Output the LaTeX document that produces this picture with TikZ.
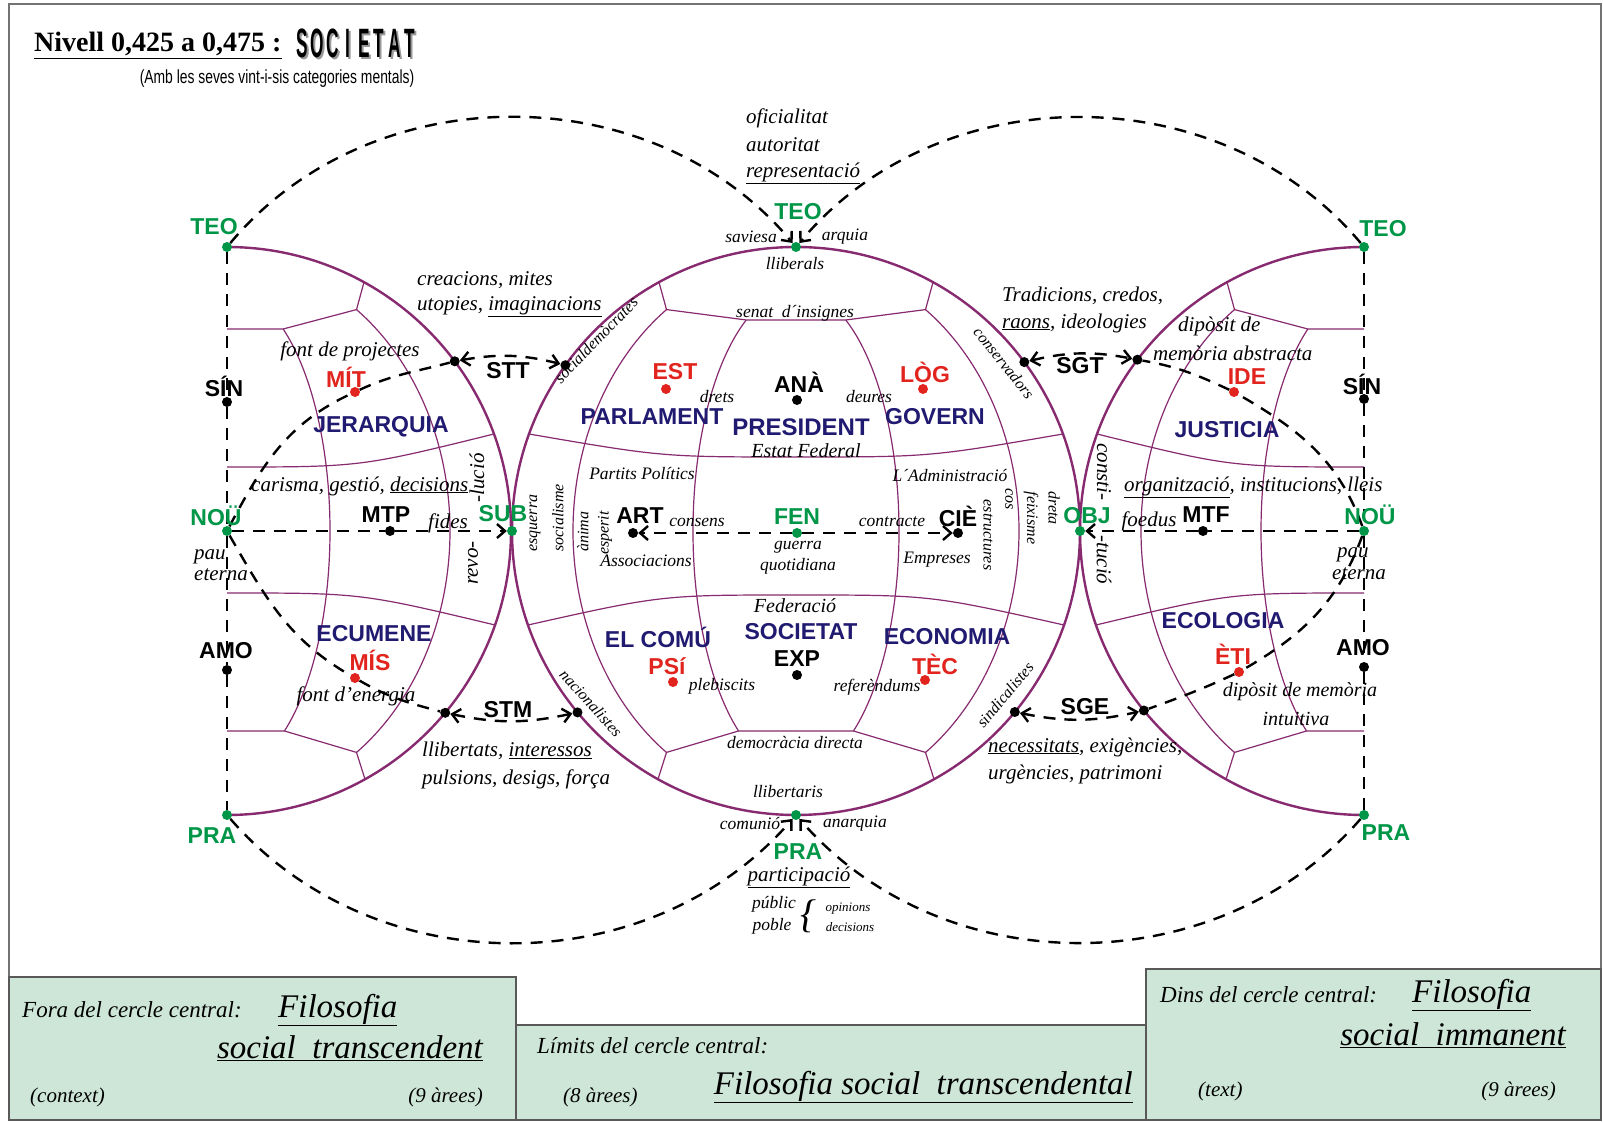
\documentclass[tikz,border=0pt]{standalone}
\usepackage{fontspec}
\setmainfont{Liberation Serif}
\newfontfamily\lsans{Liberation Sans}
\newfontfamily\lserif{Liberation Serif}
\usetikzlibrary{arrows.meta}
\definecolor{pgreen}{RGB}{0,150,72}
\definecolor{pred}{RGB}{226,36,30}
\definecolor{pnavy}{RGB}{32,26,112}
\definecolor{ppurple}{RGB}{135,42,112}
\definecolor{boxgreen}{RGB}{206,230,216}
\newcommand{\globehalf}[3]{%
  \draw[gridline] (137,248.8) -- (129.5,221.4) -- ({103*cos(asin(#1/241))},#1) -- (0,#1);
  \draw[gridline] (138,-248.2) -- (129.5,-221.4) -- (57.5,-200) -- (0,-200);
  \draw[gridline] (129.5,221.4) arc[start angle=54.5,end angle=-54.5,x radius=223,y radius=272];
  \draw[gridline] ({103*cos(asin(#1/241))},#1) arc[start angle={asin(#1/241)},end angle=-56.1,x radius=103,y radius=241];
  \draw[gridline] (267,97) .. controls (133.5,#2) .. (0,#2);
  \draw[gridline] (268,-94) .. controls (134,-#3) .. (0,-#3);
}
\newcommand{\socL}[1]{\makebox[15.5pt][c]{\scalebox{0.42}[1]{#1}}}
\newcommand{\socWord}{\socL{S}\socL{O}\socL{C}\socL{I}\socL{E}\socL{T}\socL{A}\socL{T}}
\tikzset{
  lab/.style={font=\lsans\bfseries\fontsize{23}{23}\selectfont, inner sep=0pt},
  glab/.style={lab,text=pgreen},
  rlab/.style={lab,text=pred},
  klab/.style={lab,text=black},
  region/.style={lab,text=pnavy},
  itb/.style={font=\itshape\fontsize{21}{21}\selectfont, inner sep=0pt},
  itm/.style={font=\itshape\fontsize{20}{20}\selectfont, inner sep=0pt},
  its/.style={font=\itshape\fontsize{17.5}{17.5}\selectfont, inner sep=0pt},
  itr/.style={font=\itshape\fontsize{16}{16}\selectfont, inner sep=0pt},
  itt/.style={font=\itshape\fontsize{13}{13}\selectfont, inner sep=0pt},
  gdot/.style={circle,fill=pgreen,inner sep=0pt,minimum size=10pt},
  kdot/.style={circle,fill=black,inner sep=0pt,minimum size=10pt},
  rdot/.style={circle,fill=pred,inner sep=0pt,minimum size=10pt},
  rim/.style={draw=ppurple,line width=2.4pt},
  gridline/.style={draw=ppurple,line width=1.2pt},
  dashline/.style={draw=black,line width=2.4pt,dash pattern=on 12pt off 9pt},
  boxst/.style={fill=boxgreen,draw=black!65,line width=1.6pt},
  boxit/.style={font=\itshape\fontsize{23}{23}\selectfont, inner sep=0pt},
  boxsm/.style={font=\itshape\fontsize{21}{21}\selectfont, inner sep=0pt},
  boxbig/.style={font=\itshape\fontsize{33}{33}\selectfont, inner sep=0pt},
}
\begin{document}
\begin{tikzpicture}[x=1pt,y=1pt,>={Straight Barb[length=8pt,width=14pt]}]
\useasboundingbox (0,0) rectangle (1603,1122);
\fill[white] (0,0) rectangle (1603,1122);
\draw[black!55,line width=1.5pt] (9,2) rectangle (1601,1118);

% bottom boxes
\draw[boxst] (9,2) rectangle (516,145);
\draw[boxst] (516,2) rectangle (1146,97);
\draw[boxst] (1146,2) rectangle (1601,153);

% globe grids
\begin{scope}[shift={(796,591)}]
  \globehalf{211}{74}{64}
  \begin{scope}[xscale=-1]\globehalf{211}{74}{64}\end{scope}
\end{scope}
\begin{scope}[shift={(227,591)}]\globehalf{202}{64}{62}\end{scope}
\begin{scope}[shift={(1364,591)},xscale=-1]\globehalf{202}{64}{62}\end{scope}

% rims
\draw[rim] (796,591) circle[radius=284];
\draw[rim] (227,875) arc[start angle=90,end angle=-90,radius=284];
\draw[rim] (1364,875) arc[start angle=90,end angle=270,radius=284];

% dots
\node[gdot] (teoL) at (227,875) {};
\node[kdot] (sinL) at (227,720) {};
\node[gdot] (nouL) at (227,591) {};
\node[kdot] (amoL) at (227,452) {};
\node[gdot] (praL) at (227,307) {};
\node[gdot] (teoC) at (796,875) {};
\node[gdot] (praC) at (796,307) {};
\node[gdot] (sub) at (512,591) {};
\node[gdot] (obj) at (1080,591) {};
\node[gdot] (teoR) at (1364,875) {};
\node[kdot] (sinR) at (1364,723) {};
\node[gdot] (nouR) at (1364,591) {};
\node[kdot] (amoR) at (1364,455) {};
\node[gdot] (praR) at (1364,307) {};
\node[kdot] (mtp) at (390,591) {};
\node[kdot] (mtf) at (1203,591) {};
\node[rdot] (mit) at (355,730) {};
\node[rdot] (mis) at (355,444) {};
\node[rdot] (ide) at (1234,730) {};
\node[rdot] (eti) at (1239,450) {};
\node[rdot] (est) at (666,733) {};
\node[kdot] (ana) at (797,722) {};
\node[rdot] (log) at (923,733) {};
\node[kdot] (art) at (633,589) {};
\node[gdot] (fen) at (797,589) {};
\node[kdot] (cie) at (958,589) {};
\node[rdot] (psi) at (673,440) {};
\node[kdot] (exp) at (797,447) {};
\node[rdot] (tec) at (925,442) {};
\node[kdot] (sttL) at (454.7,760.7) {};
\node[kdot] (sttR) at (565.4,756.8) {};
\node[kdot] (sgtL) at (1024.3,759.9) {};
\node[kdot] (sgtR) at (1137.4,762.3) {};
\node[kdot] (stmL) at (445.2,409.2) {};
\node[kdot] (stmR) at (577.5,409.6) {};
\node[kdot] (sgeL) at (1014.8,410) {};
\node[kdot] (sgeR) at (1143.9,411.5) {};

% connectors
\draw[dashline] (teoL) -- (sinL) -- (nouL) -- (amoL) -- (praL);
\draw[dashline] (teoR) -- (sinR) -- (nouR) -- (amoR) -- (praR);
\draw[dashline,->] (nouL) -- (mtp) -- (sub);
\draw[dashline,->] (nouR) -- (mtf) -- (obj);
\draw[dashline,->] (fen) -- (art);
\draw[dashline,->] (fen) -- (cie);
\draw[dashline,->] (teoL) to[bend left=50] (teoC);
\draw[dashline,->] (teoR) to[bend right=50] (teoC);
\draw[dashline,->] (praL) to[bend right=49] (praC);
\draw[dashline,->] (praR) to[bend left=49] (praC);
\draw[dashline] (nouL) to[out=62,in=205] (mit) to[out=25,in=195] (sttL);
\draw[dashline] (nouL) to[out=-60,in=150] (mis) to[out=-30,in=165] (stmL);
\draw[dashline] (nouR) to[out=110,in=-30] (ide) to[out=155,in=-10] (sgtR);
\draw[dashline] (nouR) to[out=-110,in=30] (eti) to[out=-155,in=20] (sgeR);
\draw[dashline,<->] (sttL) to[bend left=12] (sttR);
\draw[dashline,<->] (stmL) to[bend right=12] (stmR);
\draw[dashline,<->] (sgtL) to[bend left=12] (sgtR);
\draw[dashline,<->] (sgeL) to[bend right=12] (sgeR);

% header
\node[font=\lserif\bfseries\fontsize{28}{28}\selectfont,anchor=base west,inner sep=0pt] (title) at (34,1070) {\underline{Nivell 0,425 a 0,475 :}};
\node[inner sep=0pt,text=black!40,font=\lsans\bfseries\fontsize{41}{41}\selectfont] (socS) at (358,1077) {\socWord};
\node[inner sep=0pt,font=\lsans\bfseries\fontsize{41}{41}\selectfont] (socT) at (356,1079) {\socWord};
\node[inner sep=0pt] (subt) at (277,1043) {\scalebox{0.73}[1]{\lsans\fontsize{19}{19}\selectfont (Amb les seves vint-i-sis categories mentals)}};

% labels
\node[glab] (lteoL) at (214,895) {TEO};
\node[klab] (lsinL) at (224,736) {SÍN};
\node[glab] (lnouL) at (216,606) {NOÜ};
\node[itb,anchor=west] (lpauL) at (194,565) {pau};
\node[itb,anchor=west] (letL) at (194,547) {eterna};
\node[klab] (lamoL) at (226,471) {AMO};
\node[glab] (lpraL) at (212,286) {PRA};
\node[glab] (lteoR) at (1383,893) {TEO};
\node[klab] (lsinR) at (1362,738) {SÍN};
\node[glab] (lnouR) at (1370,607) {NOÜ};
\node[itb,anchor=west] (lpauR) at (1337,567) {pau};
\node[itb,anchor=west] (letR) at (1332,548) {eterna};
\node[klab] (lamoR) at (1363,474) {AMO};
\node[glab] (lpraR) at (1386,289) {PRA};
\node[klab] (lmtp) at (386,607) {MTP};
\node[klab] (lmtf) at (1206,607) {MTF};
\node[rlab] (lmit) at (346,745) {MÍT};
\node[rlab] (lmis) at (370,462) {MÍS};
\node[rlab] (lide) at (1247,745) {IDE};
\node[rlab] (leti) at (1233,468) {ÈTI};
\node[rlab] (lest) at (675,750) {EST};
\node[klab] (lana) at (799,740) {ANÀ};
\node[rlab] (llog) at (925,750) {LÒG};
\node[klab] (lart) at (640,606) {ART};
\node[glab] (lfen) at (797,605) {FEN};
\node[klab] (lcie) at (958,606) {CIÈ};
\node[rlab] (lpsi) at (667,456) {PSí};
\node[klab] (lexp) at (797,463) {EXP};
\node[rlab] (ltec) at (935,458) {TÈC};
\node[glab] (lsub) at (503,608) {SUB};
\node[glab] (lobj) at (1087,606) {OBJ};
\node[glab] (lteoC) at (798,910) {TEO};
\node[glab] (lpraC) at (798,270) {PRA};
\node[klab] (lstt) at (508,751) {STT};
\node[klab] (lstm) at (508,412) {STM};
\node[klab] (lsgt) at (1080,756) {SGT};
\node[klab] (lsge) at (1085,415) {SGE};

% regions
\node[region] (rjer) at (381,695) {JERARQUIA};
\node[region] (recu) at (374,488) {ECUMENE};
\node[region] (rjus) at (1227,692) {JUSTICIA};
\node[region] (reco) at (1223,501) {ECOLOGIA};
\node[region] (rpar) at (652,705) {PARLAMENT};
\node[region,font=\lsans\bfseries\fontsize{24}{24}\selectfont] (rpre) at (801,695) {PRESIDENT};
\node[region] (rgov) at (935,705) {GOVERN};
\node[region] (rcom) at (658,485) {EL COMÚ};
\node[region] (rsoc) at (801,490) {SOCIETAT};
\node[region] (recn) at (947,485) {ECONOMIA};

% rotated texts
\node[itr,rotate=46] (tsd) at (596,782) {socialdemòcrates};
\node[itr,rotate=-51] (tconserv) at (1004,759) {conservadors};
\node[itr,rotate=-48] (tnac) at (591,419) {nacionalistes};
\node[itr,rotate=50] (tsind) at (1005,427) {sindicalistes};
\node[itb,rotate=90] (trevo) at (473,559) {revo-};
\node[itb,rotate=90] (tlucio) at (477,644) {-lució};
\node[itb,rotate=-90] (tconsti) at (1104,650) {consti-};
\node[itb,rotate=-90] (ttucio) at (1104,562) {-tució};
\node[itr,rotate=90] (tesq) at (535,599) {esquerra};
\node[itr,rotate=90] (tsocm) at (558,604) {socialisme};
\node[itr,rotate=90] (tanim) at (583,590) {ànima};
\node[itr,rotate=90] (tesp) at (605,589) {esperit};
\node[itr,rotate=-90] (testr) at (988,587) {estructures};
\node[itr,rotate=-90] (tcos) at (1009,623) {cos};
\node[itr,rotate=-90] (tfeix) at (1031,604) {feixisme};
\node[itr,rotate=-90] (tdreta) at (1054,614) {dreta};

% italic annotations
\node[itb,anchor=west] (tcrea) at (417,842) {creacions, mites};
\node[itb,anchor=west] (tutop) at (417,815) {utopies, \underline{imaginacions}};
\node[itb] (tfontp) at (350,771) {font de projectes};
\node[itb,anchor=west] (tcaris) at (251,636) {carisma, gestió, \underline{decisions}};
\node[itb] (tfides) at (448,599) {fides};
\node[itb] (tfonte) at (356,426) {font d’energia};
\node[itb,anchor=west] (tllib) at (422,371) {llibertats, \underline{interessos}};
\node[itb,anchor=west] (tpuls) at (422,343) {pulsions, desigs, força};
\node[itb,anchor=west] (tofic) at (746,1004) {oficialitat};
\node[itb,anchor=west] (tauto) at (746,977) {autoritat};
\node[itb,anchor=west] (trepr) at (746,949) {\underline{representació}};
\node[its] (tsav) at (751,885) {saviesa};
\node[its] (tarq) at (845,885) {arquia};
\node[its] (tlliber) at (795,858) {lliberals};
\node[its] (tsenat) at (795,809) {senat\ \ d´insignes};
\node[its] (tdrets) at (717,725) {drets};
\node[its] (tdeures) at (869,725) {deures};
\node[itm] (testat) at (806,671) {Estat Federal};
\node[its] (tpart) at (642,648) {Partits Polítics};
\node[its] (tadm) at (950,646) {L´Administració};
\node[its] (tconsens) at (697,600) {consens};
\node[its] (tcontr) at (892,600) {contracte};
\node[its] (tguer) at (798,575) {guerra};
\node[its] (tquot) at (798,556) {quotidiana};
\node[its] (tassoc) at (646,561) {Associacions};
\node[its] (temp) at (937,562) {Empreses};
\node[itm] (tfed) at (795,516) {Federació};
\node[its] (tpleb) at (722,436) {plebiscits};
\node[its] (tref) at (877,435) {referèndums};
\node[its] (tdem) at (795,379) {democràcia directa};
\node[its] (tllibt) at (788,330) {llibertaris};
\node[its] (tcomu) at (750,298) {comunió};
\node[its] (tanar) at (855,298) {anarquia};
\node[itb] (tparti) at (799,245) {\underline{participació}};
\node[its] (tpub) at (774,218) {públic};
\node[its] (tpob) at (772,196) {poble};
\node[font=\itshape\fontsize{40}{40}\selectfont,inner sep=0pt] (tbrace) at (808,206) {\{};
\node[itt] (topin) at (848,213) {opinions};
\node[itt] (tdeci) at (850,195) {decisions};
\node[itb,anchor=west] (ttrad) at (1002,826) {Tradicions, credos,};
\node[itb,anchor=west] (traons) at (1002,799) {\underline{raons}, ideologies};
\node[itb,anchor=west] (tdip1) at (1178,796) {dipòsit de};
\node[itb,anchor=west] (tmem1) at (1153,769) {memòria abstracta};
\node[itb,anchor=west] (torg) at (1124,635) {\underline{organització}, institucions, lleis};
\node[itb] (tfoed) at (1149,601) {foedus};
\node[itm] (tdip2) at (1300,430) {dipòsit de memòria};
\node[itm] (tint) at (1296,403) {intuitiva};
\node[itb,anchor=west] (tnec) at (988,375) {\underline{necessitats}, exigències,};
\node[itb,anchor=west] (turg) at (988,348) {urgències, patrimoni};

% box texts
\node[boxit,anchor=base west] (bf1) at (22,105) {Fora del cercle central:};
\node[boxbig,anchor=base west] (bf2) at (278,105) {\underline{Filosofia}};
\node[boxbig,anchor=base east] (bf3) at (483,64) {\underline{social\ \ transcendent}};
\node[boxsm,anchor=base west] (bf4) at (30,20) {(context)};
\node[boxsm,anchor=base east] (bf5) at (483,20) {(9 àrees)};
\node[boxit,anchor=base west] (bm1) at (537,69) {Límits del cercle central:};
\node[boxbig,anchor=base east] (bm2) at (1133,28) {\underline{Filosofia social\ \ transcendental}};
\node[boxsm,anchor=base west] (bm3) at (563,20) {(8 àrees)};
\node[boxit,anchor=base west] (br1) at (1160,120) {Dins del cercle central:};
\node[boxbig,anchor=base west] (br2) at (1412,120) {\underline{Filosofia}};
\node[boxbig,anchor=base east] (br3) at (1566,77) {\underline{social\ \ immanent}};
\node[boxsm,anchor=base west] (br4) at (1198,26) {(text)};
\node[boxsm,anchor=base east] (br5) at (1556,26) {(9 àrees)};
\end{tikzpicture}
\end{document}
